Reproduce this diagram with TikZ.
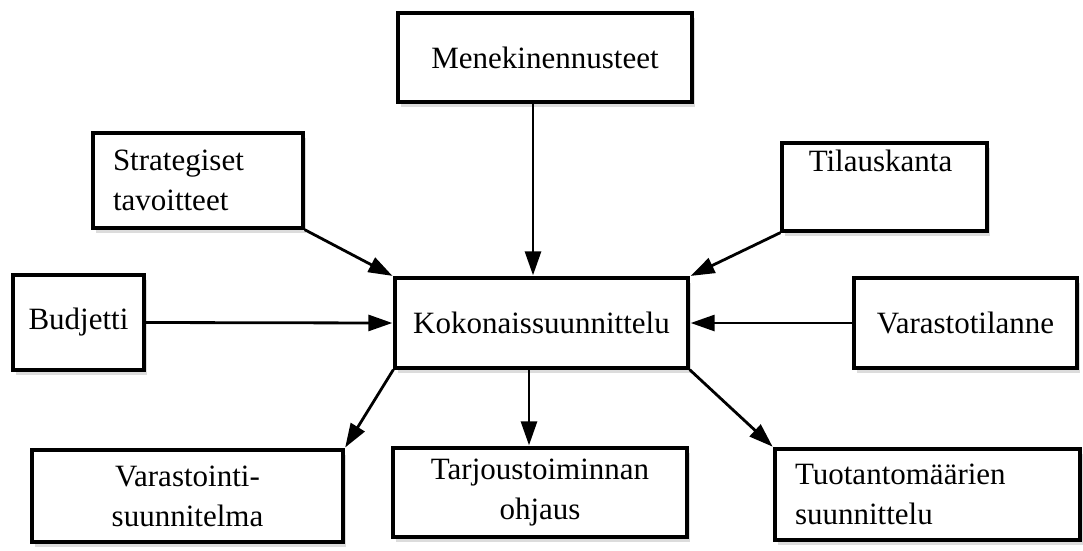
\documentclass[tikz,border=0pt]{standalone}
\usepackage{fontspec}
\setmainfont{Liberation Serif}
\usetikzlibrary{arrows.meta,shadows}
\begin{document}
\begin{tikzpicture}[x=1pt,y=-1pt,
  box/.style={draw=black, line width=3.3pt, fill=white, inner sep=0pt,
    font=\fontsize{31}{40}\selectfont,
    drop shadow={shadow xshift=3pt, shadow yshift=-5pt, fill=gray!60, opacity=0.45}},
  arr/.style={line width=2.8pt, -{Triangle[length=24pt,width=16pt]}, shorten >=1pt}]
  \useasboundingbox (0,0) rectangle (1083,550);

  % top row
  \node[box, minimum width=294pt, minimum height=89pt] (men) at (545,57.5) {Menekinennusteet};
  \node[box, minimum width=210pt, minimum height=95pt, align=left, text width=170pt, inner xsep=20pt]
    (str) at (198,180.5) {Strategiset\\tavoitteet};
  \node[box, minimum width=205pt, minimum height=88pt, align=center] (til) at (884.5,187)
    {\hspace*{-8pt}Tilauskanta\\\strut};

  % middle row
  \node[box, minimum width=131pt, minimum height=95pt] (bud) at (78.5,322.5) {Budjetti};
  \node[box, minimum width=293pt, minimum height=90pt] (kok) at (541.5,323) {Kokonaissuunnittelu};
  \node[box, minimum width=223pt, minimum height=90pt] (var) at (965.5,323) {Varastotilanne};

  % bottom row
  \node[box, minimum width=311pt, minimum height=92pt, align=center] (vsu) at (187.5,496)
    {Varastointi-\\suunnitelma};
  \node[box, minimum width=294pt, minimum height=89pt, align=center] (tar) at (540,492.5)
    {Tarjoustoiminnan\\ohjaus};
  \node[box, minimum width=305pt, minimum height=91pt, align=left, text width=265pt, inner xsep=20pt]
    (tuo) at (927.5,494.5) {Tuotantomäärien\\suunnittelu};

  % inputs
  \draw[arr] ([xshift=-12pt]men.south) -- ([xshift=-8.5pt]kok.north);
  \draw[arr] (str.south east) -- (kok.north west);
  \draw[arr] (til.south west) -- (kok.north east);
  \draw[arr] (bud.east) -- (kok.west);
  \draw[arr] (var.west) -- (kok.east);

  % outputs
  \draw[arr] (kok.south west) -- (vsu.north east);
  \draw[arr] ([xshift=-12.5pt]kok.south) -- ([xshift=-11pt]tar.north);
  \draw[arr] (kok.south east) -- (tuo.north west);
\end{tikzpicture}
\end{document}
